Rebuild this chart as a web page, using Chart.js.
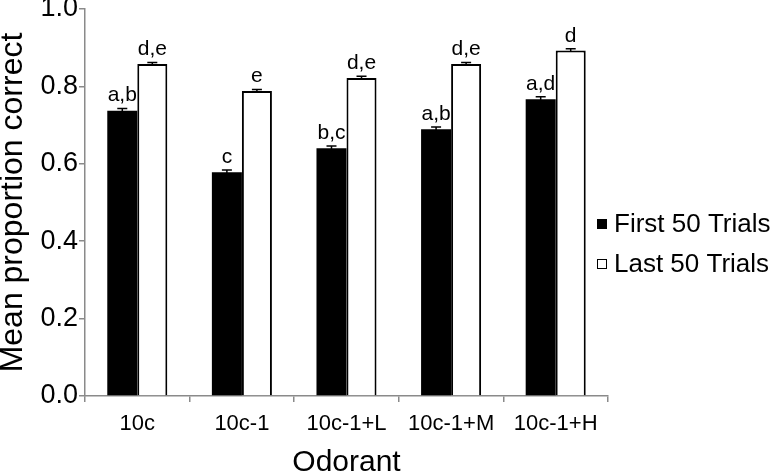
<!DOCTYPE html>
<html><head><meta charset="utf-8">
<script src="https://cdn.jsdelivr.net/npm/chart.js@4.4.1/dist/chart.umd.min.js"></script>
<style>html,body{margin:0;padding:0;background:#fff;} #wrap{width:775px;height:475px;position:relative;}</style>
</head><body><div id="wrap"><canvas id="c"></canvas></div>
<script>
const categories = ['10c', '10c-1', '10c-1+L', '10c-1+M', '10c-1+H'];
const seriesNames = ['First 50 Trials', 'Last 50 Trials'];
const first50 = [0.737, 0.578, 0.640, 0.689, 0.767];
const last50 = [0.858, 0.788, 0.822, 0.858, 0.893];
const first50Err = [0.006, 0.006, 0.006, 0.006, 0.006];
const last50Err = [0.004, 0.004, 0.004, 0.004, 0.004];
const first50Letters = ['a,b', 'c', 'b,c', 'a,b', 'a,d'];
const last50Letters = ['d,e', 'e', 'd,e', 'd,e', 'd'];
const yTicks = [0.0, 0.2, 0.4, 0.6, 0.8, 1.0];
const xTitle = 'Odorant';
const yTitle = 'Mean proportion correct';

const FONT = "'Liberation Sans', Arial, Helvetica, sans-serif";
const AXIS_GRAY = '#8a8a8a';

const errorBarsPlugin = {
  id: 'errorBars',
  afterDatasetsDraw(chart) {
    const ctx = chart.ctx;
    const y = chart.scales.y;
    ctx.save();
    chart.data.datasets.forEach((ds, di) => {
      const meta = chart.getDatasetMeta(di);
      meta.data.forEach((el, i) => {
        const v = ds.data[i], e = ds.errors[i];
        const yt = y.getPixelForValue(v + e);
        const yb = y.getPixelForValue(v - e);
        ctx.strokeStyle = '#000';
        ctx.lineWidth = 1.5;
        ctx.beginPath();
        ctx.moveTo(el.x, yt); ctx.lineTo(el.x, yb);
        ctx.moveTo(el.x - 5, yt); ctx.lineTo(el.x + 5, yt);
        ctx.stroke();
        ctx.fillStyle = '#000';
        ctx.font = '21px ' + FONT;
        ctx.textAlign = 'center';
        ctx.textBaseline = 'alphabetic';
        ctx.fillText(ds.letters[i], el.x, yt - 7);
      });
    });
    ctx.restore();
  }
};

const legendPlugin = {
  id: 'customLegend',
  afterDraw(chart) {
    const ctx = chart.ctx;
    const rows = [224, 264];
    ctx.save();
    chart.data.datasets.forEach((ds, i) => {
      const cy = rows[i];
      ctx.fillStyle = ds.backgroundColor;
      ctx.fillRect(597, cy - 5, 10, 10);
      ctx.strokeStyle = '#000';
      ctx.lineWidth = 1;
      ctx.strokeRect(597.5, cy - 4.5, 9, 9);
      ctx.fillStyle = '#000';
      ctx.font = '26px ' + FONT;
      ctx.textAlign = 'left';
      ctx.textBaseline = 'middle';
      ctx.fillText(ds.label, 614, cy + 1);
    });
    ctx.restore();
  }
};

new Chart(document.getElementById('c'), {
  type: 'bar',
  data: {
    labels: categories,
    datasets: [
      { label: seriesNames[0], data: first50, errors: first50Err, letters: first50Letters,
        backgroundColor: '#000000', borderColor: '#000000', borderWidth: 0 },
      { label: seriesNames[1], data: last50, errors: last50Err, letters: last50Letters,
        backgroundColor: '#ffffff', borderColor: '#000000', borderWidth: 2, borderSkipped: 'bottom' }
    ]
  },
  options: {
    responsive: true,
    maintainAspectRatio: false,
    animation: false,
    devicePixelRatio: 1,
    layout: { padding: { left: 0, right: 167, top: 9, bottom: 0 } },
    datasets: { bar: { categoryPercentage: 0.574, barPercentage: 1.0 } },
    plugins: { legend: { display: false }, tooltip: { enabled: false } },
    scales: {
      x: {
        grid: { display: true, offset: true, drawOnChartArea: false, drawTicks: true, tickLength: 6, color: AXIS_GRAY, lineWidth: 1.5 },
        border: { display: true, color: AXIS_GRAY, width: 1.5 },
        ticks: { color: '#000', font: { family: FONT, size: 22 }, padding: 9, maxRotation: 0, autoSkip: false },
        title: { display: true, text: xTitle, color: '#000', font: { family: FONT, size: 30, lineHeight: 1 }, padding: { top: 0, bottom: -3 } },
        afterFit(s) { s.height = 79; s.paddingLeft = 0; s.paddingRight = 0; }
      },
      y: {
        min: 0, max: 1,
        afterBuildTicks(s) { s.ticks = yTicks.map(v => ({ value: v })); },
        grid: { display: true, drawOnChartArea: false, drawTicks: true, tickLength: 6, color: AXIS_GRAY, lineWidth: 1.5 },
        border: { display: true, color: AXIS_GRAY, width: 1.5 },
        ticks: { color: '#000', font: { family: FONT, size: 27 }, padding: 1, callback: v => Number(v).toFixed(1) },
        title: { display: true, text: yTitle, color: '#000', font: { family: FONT, size: 32, lineHeight: 1 }, padding: { top: -3, bottom: 0 } },
        afterFit(s) { s.width = 85; s.paddingTop = 0; s.paddingBottom = 0; }
      }
    }
  },
  plugins: [errorBarsPlugin, legendPlugin]
});
</script>
</body></html>
